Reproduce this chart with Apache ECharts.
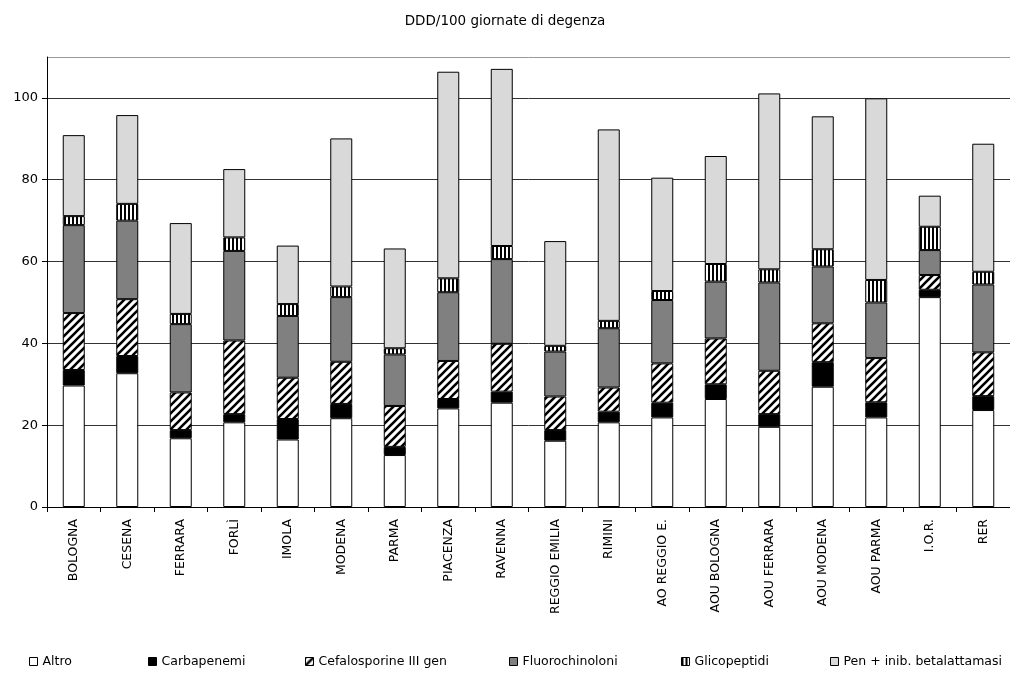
<!DOCTYPE html>
<html>
<head>
<meta charset="utf-8">
<script src="https://cdn.jsdelivr.net/npm/echarts@6/dist/echarts.min.js"></script>
<style>html,body{margin:0;padding:0;background:#fff}#c{width:1010px;height:684px}</style>
</head>
<body>
<div id="c"></div>
<script>
const categories = ['BOLOGNA','CESENA','FERRARA','FORLÌ','IMOLA','MODENA','PARMA','PIACENZA','RAVENNA','REGGIO EMILIA','RIMINI','AO REGGIO E.','AOU BOLOGNA','AOU FERRARA','AOU MODENA','AOU PARMA','I.O.R.','RER'];
const altro          = [29.7,32.7,16.8,20.7,16.5,21.7,12.7,24.1,25.5,16.2,20.7,21.9,26.4,19.6,29.4,21.9,51.3,23.7];
const carbapenemi    = [3.8,4.2,2.0,2.0,5.0,3.5,2.0,2.3,2.7,2.6,2.6,3.6,3.6,3.1,6.0,3.7,1.8,3.4];
const cefalosporine  = [13.9,13.9,9.2,18.0,10.1,10.3,10.0,9.3,11.7,8.2,5.9,9.6,11.2,10.6,9.5,10.8,3.6,10.7];
const fluorochinoloni= [21.5,19.2,16.7,21.9,15.1,15.8,12.6,16.8,20.7,11.0,14.5,15.5,13.9,21.6,13.9,13.6,6.1,16.6];
const glicopeptidi   = [2.2,4.1,2.5,3.3,2.9,2.6,1.5,3.4,3.2,1.4,1.8,2.2,4.3,3.2,4.2,5.5,5.7,3.1];
const penInib        = [19.8,21.7,22.2,16.7,14.3,36.2,24.4,50.5,43.3,25.6,46.8,27.7,26.4,43.0,32.5,44.4,7.6,31.3];
const seriesNames = ['Altro','Carbapenemi','Cefalosporine III gen','Fluorochinoloni','Glicopeptidi','Pen + inib. betalattamasi'];
const yTicks = [0,20,40,60,80,100];

function hatch() {
  const c = document.createElement('canvas'); c.width = 8; c.height = 8;
  const g = c.getContext('2d');
  g.fillStyle = '#fff'; g.fillRect(0,0,8,8);
  g.strokeStyle = '#000'; g.lineWidth = 2.6;
  g.beginPath();
  g.moveTo(-2,10); g.lineTo(10,-2);
  g.moveTo(-6,6); g.lineTo(6,-6);
  g.moveTo(2,14); g.lineTo(14,2);
  g.stroke();
  return c;
}
function vstripes() {
  const c = document.createElement('canvas'); c.width = 4; c.height = 4;
  const g = c.getContext('2d');
  g.fillStyle = '#fff'; g.fillRect(0,0,4,4);
  g.fillStyle = '#000'; g.fillRect(0,0,2,4);
  return c;
}
const fills = ['#ffffff','#000000',{image:hatch(),repeat:'repeat'},'#808080',{image:vstripes(),repeat:'repeat'},'#d9d9d9'];
const data = [altro,carbapenemi,cefalosporine,fluorochinoloni,glicopeptidi,penInib];
const legendTextX = [42,161,318,522,694,843];

const chart = echarts.init(document.getElementById('c'), null, {renderer:'canvas'});
const font = 'DejaVu Sans';
chart.setOption({
  animation:false,
  textStyle:{fontFamily:font},
  title:{text:'DDD/100 giornate di degenza',left:'center',top:9,textStyle:{fontFamily:font,fontSize:13.5,fontWeight:'normal',color:'#000'}},
  legend: seriesNames.map((n,i)=>({
    data:[n], left: legendTextX[i]-5-8-5, top:650, itemWidth:8, itemHeight:8, icon:'rect',
    itemStyle:{borderColor:'#000',borderWidth:1},
    textStyle:{fontFamily:font,fontSize:12.5,color:'#000'}, selectedMode:false
  })),
  grid:{left:47,top:57,width:972,bottom:177,containLabel:false},
  xAxis:{type:'category',data:categories,
    axisLine:{lineStyle:{color:'#000',width:1}},
    axisTick:{show:true,length:5,lineStyle:{color:'#000'}},
    axisLabel:{rotate:90,margin:12,fontSize:12.5,color:'#000',fontFamily:font,interval:0}},
  yAxis:{type:'value',min:0,max:110,interval:20,
    axisLine:{show:true,lineStyle:{color:'#000'}},
    axisTick:{show:true,length:5,inside:false,lineStyle:{color:'#000'}},
    axisLabel:{fontSize:13,color:'#000',fontFamily:font,margin:9,showMaxLabel:false,
      formatter:v=>yTicks.includes(v)?String(v):''},
    splitLine:{show:true,lineStyle:{color:['#000','#333','#333','#333','#333','#333','#999'],width:1}}},
  series: seriesNames.map((n,i)=>({
    name:n,type:'bar',stack:'s',data:data[i],barWidth:22,
    itemStyle:{color:fills[i],borderColor:'#000',borderWidth:1},
    emphasis:{disabled:true}
  }))
});
</script>
</body>
</html>
